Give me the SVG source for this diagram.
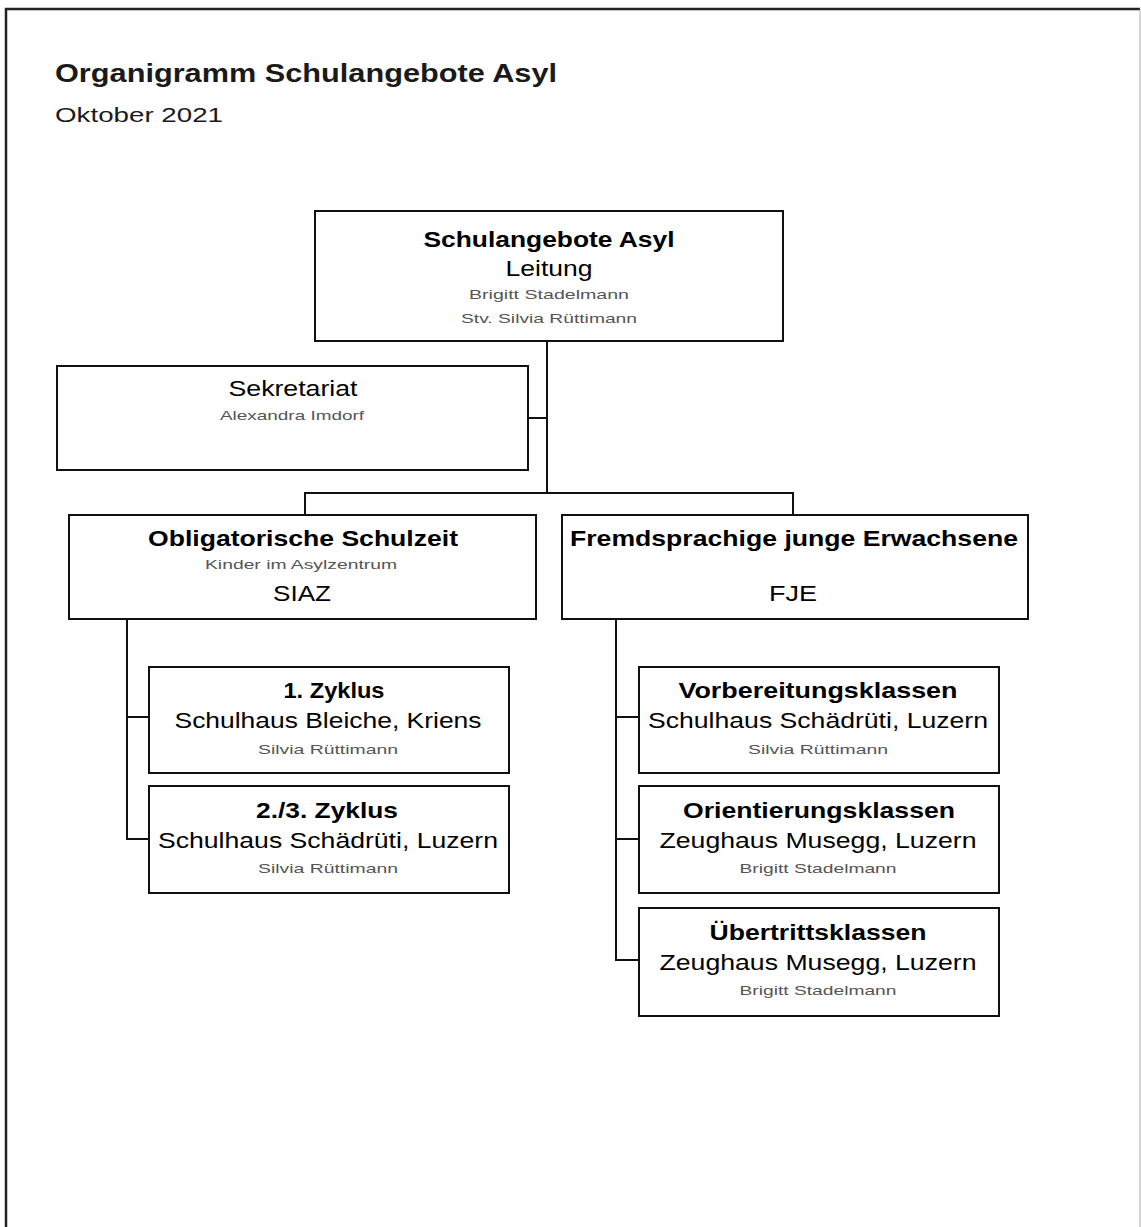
<svg xmlns="http://www.w3.org/2000/svg" width="1141" height="1227" viewBox="0 0 1141 1227">
<style>
text{font-family:"Liberation Sans",Arial,sans-serif;fill:#000;text-anchor:middle}
.t{font-size:25px;font-weight:bold;text-anchor:start;fill:#1a1a1a}
.st{font-size:20px;text-anchor:start;fill:#1a1a1a}
.b{font-size:22px;font-weight:bold}
.n{font-size:22px}
.s{font-size:13px;fill:#555}
.box{fill:#fff;stroke:#111;stroke-width:2}
.c{fill:none;stroke:#111;stroke-width:2}
</style>
<rect width="1141" height="1227" fill="#fff"/>
<path d="M6,1227 V9 H1140" fill="none" stroke="#222" stroke-width="2.5"/>
<line x1="1140" y1="9" x2="1140" y2="1227" stroke="#aaa" stroke-width="1"/>
<g id="title">
<text class="t" x="55" y="82" textLength="502" lengthAdjust="spacingAndGlyphs">Organigramm Schulangebote Asyl</text>
<text class="st" x="55" y="122" textLength="168" lengthAdjust="spacingAndGlyphs">Oktober 2021</text>
</g>
<g id="connectors">
<path class="c" d="M547,341 V493"/>
<path class="c" d="M528,418 H547"/>
<path class="c" d="M305,515 V493 H793 V515"/>
<path class="c" d="M127,620 V839 H149 M127,717 H149"/>
<path class="c" d="M616,620 V960 H639 M616,717 H639 M616,839 H639"/>
</g>
<g id="leitung">
<rect class="box" x="315" y="211" width="468" height="130"/>
<text class="b" x="549" y="247" textLength="251" lengthAdjust="spacingAndGlyphs">Schulangebote Asyl</text>
<text class="n" x="549" y="276" textLength="87" lengthAdjust="spacingAndGlyphs">Leitung</text>
<text class="s" x="549" y="299" textLength="160" lengthAdjust="spacingAndGlyphs">Brigitt Stadelmann</text>
<text class="s" x="549" y="323" textLength="176" lengthAdjust="spacingAndGlyphs">Stv. Silvia Rüttimann</text>
</g>
<g id="sekretariat">
<rect class="box" x="57" y="366" width="471" height="104"/>
<text class="n" x="293" y="396" textLength="129" lengthAdjust="spacingAndGlyphs">Sekretariat</text>
<text class="s" x="292" y="420" textLength="144" lengthAdjust="spacingAndGlyphs">Alexandra Imdorf</text>
</g>
<g id="obligatorisch">
<rect class="box" x="69" y="515" width="467" height="104"/>
<text class="b" x="303" y="546" textLength="310" lengthAdjust="spacingAndGlyphs">Obligatorische Schulzeit</text>
<text class="s" x="301" y="569" textLength="192" lengthAdjust="spacingAndGlyphs">Kinder im Asylzentrum</text>
<text class="n" x="302" y="601" textLength="58" lengthAdjust="spacingAndGlyphs">SIAZ</text>
</g>
<g id="fje">
<rect class="box" x="562" y="515" width="466" height="104"/>
<text class="b" x="794" y="546" textLength="448" lengthAdjust="spacingAndGlyphs">Fremdsprachige junge Erwachsene</text>
<text class="n" x="793" y="601" textLength="48" lengthAdjust="spacingAndGlyphs">FJE</text>
</g>
<g id="zyklus1">
<rect class="box" x="149" y="667" width="360" height="106"/>
<text class="b" x="334" y="698" textLength="101" lengthAdjust="spacingAndGlyphs">1. Zyklus</text>
<text class="n" x="328" y="728" textLength="307" lengthAdjust="spacingAndGlyphs">Schulhaus Bleiche, Kriens</text>
<text class="s" x="328" y="754" textLength="140" lengthAdjust="spacingAndGlyphs">Silvia Rüttimann</text>
</g>
<g id="zyklus23">
<rect class="box" x="149" y="786" width="360" height="107"/>
<text class="b" x="327" y="818" textLength="142" lengthAdjust="spacingAndGlyphs">2./3. Zyklus</text>
<text class="n" x="328" y="848" textLength="340" lengthAdjust="spacingAndGlyphs">Schulhaus Schädrüti, Luzern</text>
<text class="s" x="328" y="873" textLength="140" lengthAdjust="spacingAndGlyphs">Silvia Rüttimann</text>
</g>
<g id="vorbereitung">
<rect class="box" x="639" y="667" width="360" height="106"/>
<text class="b" x="818" y="698" textLength="279" lengthAdjust="spacingAndGlyphs">Vorbereitungsklassen</text>
<text class="n" x="818" y="728" textLength="340" lengthAdjust="spacingAndGlyphs">Schulhaus Schädrüti, Luzern</text>
<text class="s" x="818" y="754" textLength="140" lengthAdjust="spacingAndGlyphs">Silvia Rüttimann</text>
</g>
<g id="orientierung">
<rect class="box" x="639" y="786" width="360" height="107"/>
<text class="b" x="819" y="818" textLength="272" lengthAdjust="spacingAndGlyphs">Orientierungsklassen</text>
<text class="n" x="818" y="848" textLength="317" lengthAdjust="spacingAndGlyphs">Zeughaus Musegg, Luzern</text>
<text class="s" x="818" y="873" textLength="157" lengthAdjust="spacingAndGlyphs">Brigitt Stadelmann</text>
</g>
<g id="uebertritt">
<rect class="box" x="639" y="908" width="360" height="108"/>
<text class="b" x="818" y="940" textLength="217" lengthAdjust="spacingAndGlyphs">Übertrittsklassen</text>
<text class="n" x="818" y="970" textLength="317" lengthAdjust="spacingAndGlyphs">Zeughaus Musegg, Luzern</text>
<text class="s" x="818" y="995" textLength="157" lengthAdjust="spacingAndGlyphs">Brigitt Stadelmann</text>
</g>
</svg>
